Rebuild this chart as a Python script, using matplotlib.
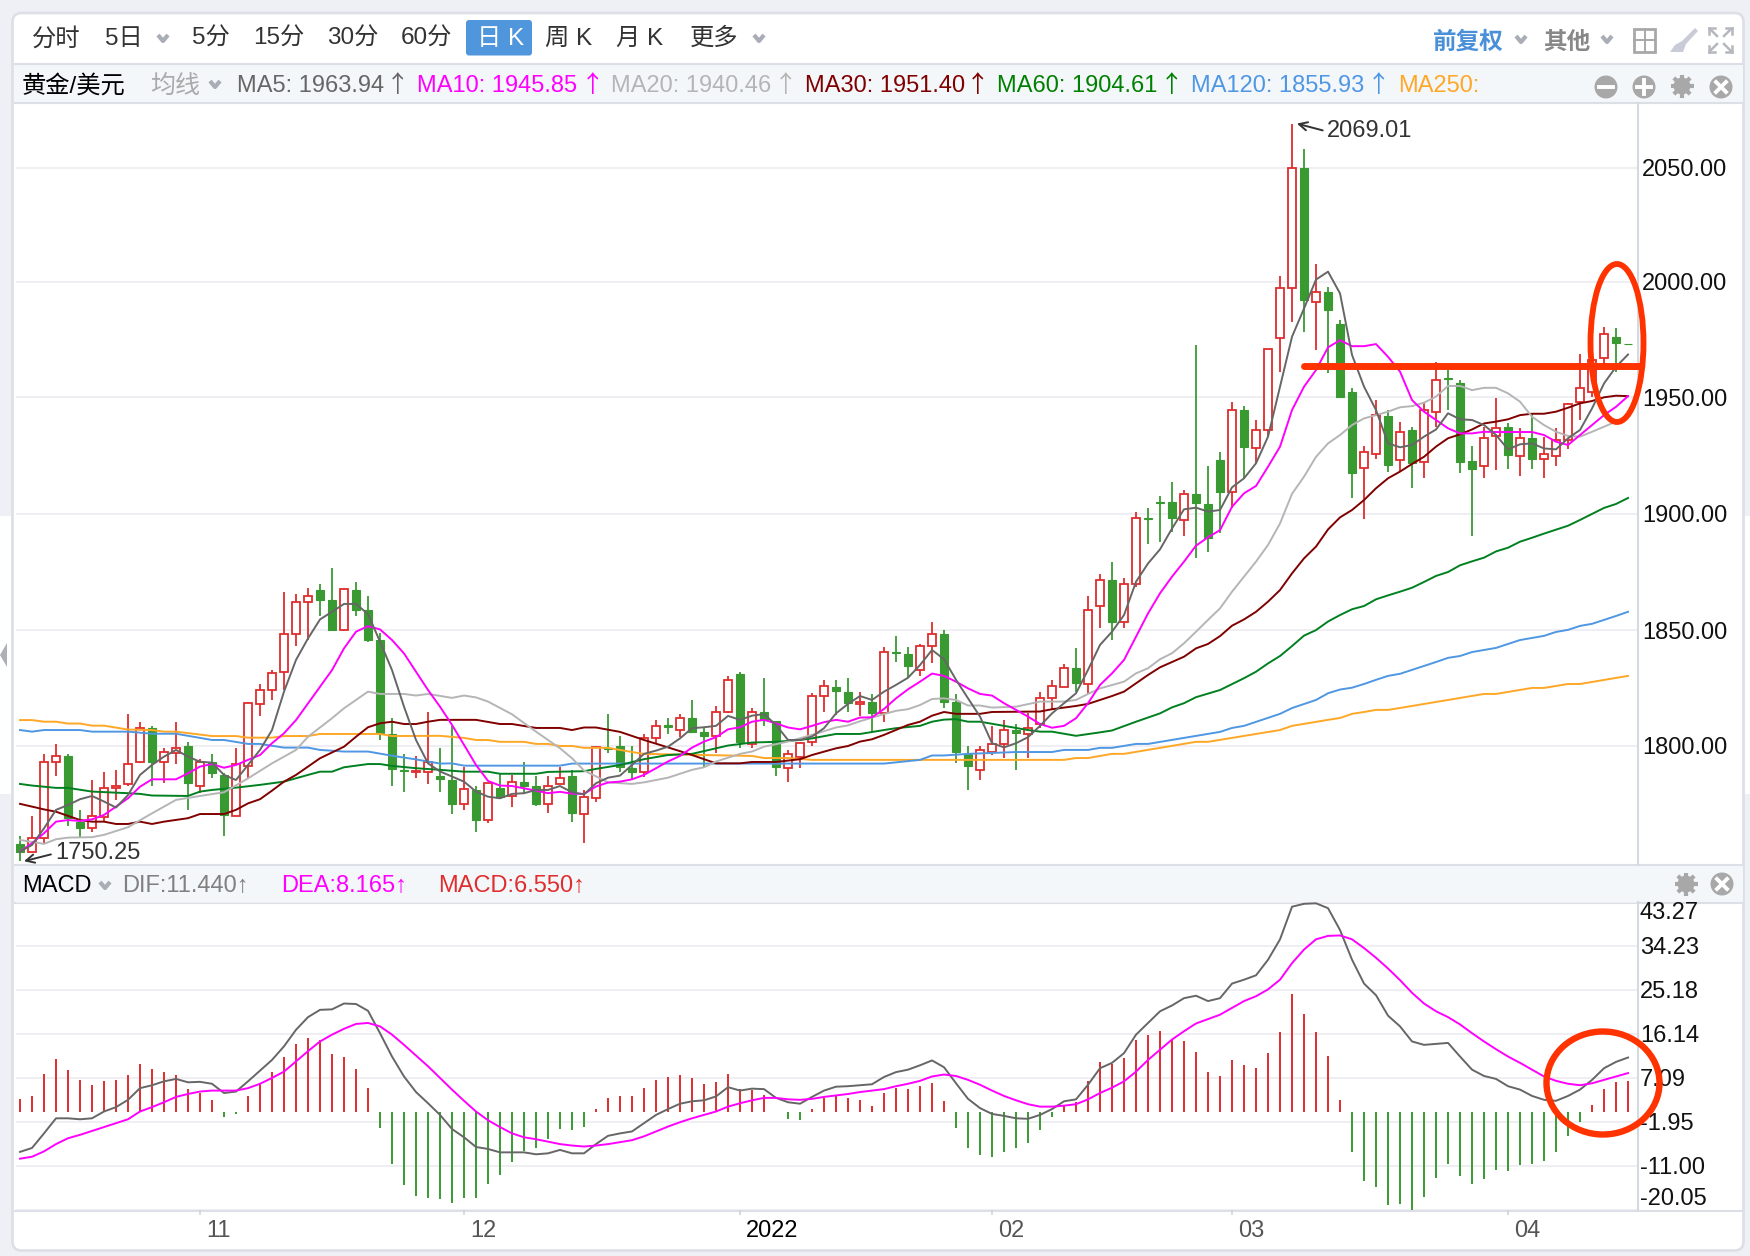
import matplotlib
matplotlib.use("Agg")
import numpy as np
import matplotlib.pyplot as plt
from matplotlib.patches import Rectangle, FancyBboxPatch, Circle, Ellipse, Polygon

plt.rcParams['font.family'] = ['Liberation Sans', 'Noto Sans CJK SC', 'DejaVu Sans']

W, H = 1750, 1256

candle_dirs = ("GRRRGGRRRR" "RGRRGRGGRR" "RRRRRGGRGG" "GGGRRGGRGR" "GRGGRRGRRG"
               "GGRRGRGGRR" "GRGGRRRRGG" "RGRGGRRGGG" "RRRGRRRRGR" "RGRRGGGRGG"
               "GRGRRRRGRG" "GGRRGRGRRG" "GGRRGRGRRR" "RRRGG")

highs = [1761.1, 1769.8, 1796.4, 1800.9, 1796.4, 1772.4, 1785.3, 1788.6, 1789.6, 1813.8,
         1810.2, 1808.6, 1799, 1810.2, 1801.7, 1794.2, 1796.6, 1788.2, 1799, 1818.4,
         1826.6, 1832.8, 1866.5, 1865.7, 1868.1, 1870, 1876.8, 1868.1, 1870.9, 1864.8,
         1849, 1812, 1796.6, 1795.7, 1814.6, 1799.1, 1808.7, 1791.1, 1782.5, 1783.9,
         1788.2, 1787.5, 1793, 1787.1, 1787.1, 1791.1, 1789.7, 1781, 1800, 1813.9,
         1804.3, 1800, 1805.1, 1811.3, 1812, 1813.9, 1819.9, 1808.1, 1817.3, 1830.3,
         1832, 1816.3, 1829.3, 1811, 1798.3, 1801.9, 1823.1, 1828.5, 1828.5, 1829.3,
         1823.4, 1822.3, 1842.9, 1847.5, 1842.9, 1844.1, 1853.5, 1850.1, 1822.3, 1800,
         1800, 1808.7, 1811.3, 1809.4, 1814.4, 1823.2, 1828.5, 1835.4, 1842.2, 1864.8,
         1874.3, 1879.5, 1872.5, 1901, 1902.7, 1908, 1914.1, 1910.6, 1973.3, 1921,
         1927, 1948.5, 1946.9, 1940.9, 1971.4, 2003.1, 2069.01, 2058.2, 2008.3, 1998.5,
         1984.1, 1954.6, 1929.6, 1949.5, 1945.2, 1939.9, 1938, 1948.1, 1965.8, 1965.4,
         1958.2, 1929.6, 1938, 1950.2, 1939.7, 1937.3, 1944, 1933.7, 1937.3, 1948.4,
         1969.4, 1967.5, 1981.2, 1980.5, 1973.7]
body_tops = [1757.7, 1760.4, 1793.2, 1795.7, 1795.7, 1767.3, 1769.8, 1782, 1782.9, 1792.4,
             1807.9, 1807.6, 1797.4, 1799.3, 1800, 1793, 1793, 1787.5, 1792.4, 1818.4,
             1824.2, 1831.4, 1848.5, 1862.4, 1865, 1867.3, 1863.1, 1867.7, 1867.3, 1858.8,
             1845.8, 1805, 1789.6, 1789.4, 1793.2, 1787, 1785.3, 1781.3, 1781, 1783.9,
             1781.7, 1784.6, 1784.5, 1782.5, 1782.9, 1786.3, 1787.1, 1777.9, 1799.5, 1799,
             1800, 1790.7, 1803.6, 1808.7, 1809, 1812.3, 1812, 1805.9, 1814.9, 1828.7,
             1831.1, 1814.9, 1814.6, 1811, 1796.6, 1801.5, 1821.8, 1825.9, 1825.7, 1823.2,
             1819.2, 1818.9, 1840.8, 1840.6, 1839.8, 1843.4, 1848.6, 1848.4, 1818.9, 1796.6,
             1798.3, 1800.7, 1806.9, 1806.9, 1807.9, 1820.8, 1825.9, 1833.7, 1833.6, 1858.8,
             1871.7, 1871.7, 1870, 1898.5, 1898.4, 1905.3, 1905.3, 1909, 1908.7, 1904.4,
             1923.6, 1945.2, 1945.2, 1936.6, 1971.4, 1998, 2049.9, 2049.7, 1996.2, 1996,
             1982.4, 1952.8, 1927, 1943, 1942.6, 1935.7, 1936.6, 1945.2, 1958.2, 1959,
             1957, 1923.3, 1933.1, 1937.3, 1938, 1933, 1933, 1926.2, 1932.2, 1947.8,
             1954.7, 1966.8, 1978, 1976.9, 1973.7]
body_bots = [1754.4, 1754.4, 1760.4, 1793.2, 1768.8, 1764.7, 1764.7, 1769.5, 1781.7, 1783.4,
             1793, 1793.2, 1793.2, 1796.8, 1783.9, 1782.7, 1788.2, 1770.2, 1769.8, 1791.4,
             1818.2, 1824.2, 1832, 1848.2, 1862.4, 1863.1, 1850.1, 1850.1, 1858.8, 1845.8,
             1805.5, 1789.9, 1789.1, 1788.6, 1788.8, 1785.6, 1775, 1775, 1768, 1768,
             1778.1, 1778.4, 1782.7, 1775, 1775, 1783.5, 1770.9, 1770.7, 1777.4, 1798.6,
             1791.1, 1788.9, 1788.7, 1803.6, 1808.4, 1807, 1806.2, 1804.5, 1804.3, 1814.7,
             1801.9, 1800.9, 1811.3, 1790.8, 1790.5, 1795.4, 1801.6, 1821.6, 1823.8, 1818.5,
             1818.2, 1814.1, 1814.1, 1840, 1834.7, 1832.9, 1843.2, 1819.2, 1797.6, 1791.5,
             1789.7, 1797.3, 1800.7, 1805.5, 1805.4, 1809.5, 1820.9, 1825.7, 1827.1, 1826.8,
             1860.5, 1853.7, 1853.6, 1870, 1897.9, 1904.9, 1898.7, 1897.7, 1904.9, 1890,
             1909.9, 1909.9, 1929.1, 1928.6, 1936.6, 1976.2, 1997.8, 1992.7, 1991.9, 1988.4,
             1950.7, 1917.8, 1920.3, 1926.2, 1921.3, 1923.6, 1922.2, 1922.7, 1944.2, 1958.4,
             1922.9, 1919.6, 1921, 1934, 1925.6, 1925.3, 1923.9, 1923.9, 1925.3, 1932.2,
             1948.7, 1952.8, 1967.5, 1974, 1973.6]
lows = [1750.25, 1754.4, 1758, 1787, 1765.6, 1760.8, 1763, 1767.3, 1776.7, 1782.7,
        1792.5, 1782.7, 1783.9, 1792.2, 1772.4, 1779.6, 1786.2, 1761.3, 1769.8, 1785.9,
        1813.1, 1819.9, 1824.2, 1843.2, 1845.8, 1856.2, 1850.1, 1849.8, 1856.2, 1844.9,
        1802.6, 1782.7, 1780.1, 1786.2, 1783.6, 1780.1, 1770.7, 1772.4, 1763, 1766.6,
        1777, 1773.5, 1779.9, 1774.1, 1770.9, 1783.5, 1767.3, 1758, 1776, 1796.9,
        1788.9, 1785.6, 1786.5, 1801.2, 1805.2, 1803.8, 1805.5, 1791.1, 1796.9, 1814.1,
        1799.3, 1799.3, 1808.7, 1787.2, 1784.6, 1790.7, 1800.2, 1814.9, 1813.4, 1814.9,
        1813, 1806.2, 1810.5, 1836.5, 1830, 1830.3, 1835.7, 1816.6, 1792.5, 1781,
        1785.3, 1795.9, 1795, 1789.7, 1794.7, 1807.7, 1815.6, 1825.4, 1823.5, 1822.5,
        1851.2, 1845.8, 1851.2, 1868.6, 1887.3, 1888.2, 1892.6, 1890.8, 1881.4, 1884,
        1891.9, 1903, 1915.7, 1922.2, 1933.4, 1961.8, 1983.4, 1979, 1971.1, 1961,
        1950.7, 1907.3, 1898, 1923.9, 1918.6, 1918.6, 1911.6, 1916, 1938, 1945.2,
        1917.8, 1890.9, 1916, 1919.3, 1919.6, 1916.8, 1919.6, 1916, 1921.2, 1928.2,
        1940.9, 1950.7, 1964.6, 1961.8, 1973.4]

ma5 = [1754.4, 1757.2, 1764.4, 1772.4, 1774.5, 1777, 1778.4, 1776, 1773.4, 1778.8,
       1787.5, 1791.8, 1795.4, 1798.3, 1795.4, 1793.2, 1792.8, 1787.5, 1785.3, 1791.8,
       1798.3, 1806.9, 1823.5, 1837.2, 1846.5, 1854.7, 1858, 1861.4, 1861.4, 1857,
       1845.1, 1832.8, 1817, 1802.6, 1792.5, 1789, 1786.8, 1784.6, 1780.3, 1778.1,
       1777.4, 1779.3, 1779.6, 1781, 1781, 1782.7, 1780, 1779.1, 1783.9, 1786.3,
       1787.2, 1791.8, 1796.6, 1798, 1799.7, 1803.3, 1807.7, 1808.1, 1808.7, 1813,
       1811.3, 1813.1, 1813.8, 1809.1, 1802.6, 1802.6, 1804.1, 1807.7, 1814.1, 1818.2,
       1821.6, 1819.9, 1823.5, 1826.4, 1829.5, 1835, 1841.5, 1837.5, 1828.6, 1820.6,
       1812.7, 1801.2, 1799.4, 1801.2, 1803.8, 1808.7, 1814.1, 1818.5, 1822.8, 1832.9,
       1843.7, 1849.4, 1856.6, 1871, 1878.9, 1885, 1894, 1902.3, 1903, 1901.3,
       1902, 1911.8, 1915.7, 1922.2, 1933.7, 1955.3, 1976.9, 1989.1, 2001.6, 2005,
       1995.6, 1969, 1955.3, 1945.2, 1930.8, 1929.1, 1930.1, 1933.7, 1936.8, 1943.8,
       1941.2, 1940.9, 1938.7, 1934.4, 1928.2, 1930.4, 1930.8, 1928.6, 1928.2, 1933,
       1936.6, 1945.9, 1956.7, 1963.9, 1969.2]
ma10 = [1754.4, 1758, 1762.3, 1767.3, 1768, 1767.6, 1768.3, 1770.2, 1773.8, 1777.4,
        1782.4, 1785.6, 1785.6, 1785.6, 1788.2, 1791.1, 1792.2, 1790.6, 1791.8, 1794,
        1796.1, 1801.2, 1805.5, 1811.2, 1818.4, 1825.6, 1832.8, 1842.2, 1849.4, 1851.8,
        1850.4, 1845.8, 1840, 1832.1, 1824.2, 1817, 1809.1, 1800.5, 1791.8, 1784.9,
        1782.9, 1782.7, 1781.7, 1780.7, 1779.6, 1780.2, 1779.4, 1779.3, 1782.5, 1784.2,
        1784.6, 1785.6, 1787.5, 1790.4, 1793.3, 1795.7, 1799.3, 1801.9, 1803.8, 1807.2,
        1808.1, 1810.5, 1811.3, 1809.8, 1808, 1807.2, 1808.7, 1810.3, 1811.3, 1810.5,
        1812.3, 1812.4, 1816, 1820.6, 1824.5, 1827.8, 1831.3, 1830.3, 1827.8, 1824.9,
        1822.5, 1821.8, 1818.5, 1815.6, 1812.7, 1809.5, 1807.9, 1808.7, 1812, 1818.5,
        1826.4, 1831.4, 1837.2, 1847.3, 1857.3, 1866, 1873.2, 1879.7, 1886.6, 1890.2,
        1893.3, 1903.4, 1909.2, 1912.4, 1920.7, 1929.4, 1945.2, 1955.3, 1962.5, 1972.3,
        1975.4, 1972.8, 1972.8, 1973.7, 1968.2, 1961.8, 1949.5, 1944.5, 1940.9, 1937.3,
        1935.1, 1935.1, 1935.8, 1935.7, 1935.7, 1935.7, 1935.7, 1934.4, 1931.5, 1930.1,
        1934.4, 1938.7, 1943, 1946.6, 1951.2]

ma20_days = [0, 2, 3, 4, 6, 7, 9, 11, 13, 15, 17, 19, 21, 23, 24, 26, 27, 29, 30, 32, 33, 34,
             36, 37, 38, 39, 41, 43, 45, 46, 47, 49, 51, 52, 54, 56, 57, 58, 60, 61, 62, 64,
             66, 68, 69, 70, 72, 73, 74, 75, 76, 77, 78, 79, 80, 81, 83, 85, 87, 88, 89, 90,
             92, 93, 94, 95, 96, 97, 98, 99, 100, 101, 102, 103, 104, 105, 106, 107, 108, 109,
             110, 111, 112, 113, 114, 115, 116, 117, 118, 119, 120, 121, 122, 123, 124, 125,
             126, 127, 128, 129, 130, 131, 132, 133, 134]
ma20 = [1759.4, 1757.7, 1759.7, 1760.4, 1760.6, 1761.6, 1764.9, 1770.9, 1776.7, 1778.4, 1780,
        1786, 1792.5, 1798.3, 1804, 1812, 1816.3, 1823.5, 1822.5, 1822.5, 1821.8, 1822.5,
        1820.8, 1821.8, 1821, 1819.2, 1813.7, 1806.2, 1799, 1794.7, 1789.4, 1784.3, 1783.6,
        1784.3, 1786.3, 1789.7, 1790.8, 1793.3, 1796.6, 1797.6, 1799.7, 1801.9, 1804.8, 1808,
        1808.9, 1810.7, 1813.8, 1815.2, 1815.9, 1817.7, 1820.3, 1820.6, 1819.9, 1817.5,
        1817.5, 1816.6, 1817, 1819.2, 1819.2, 1819.9, 1822.5, 1824.9, 1827.8, 1831.4, 1833.6,
        1837.5, 1840.1, 1844.4, 1849.4, 1854.5, 1859.5, 1866.7, 1873.2, 1879.7, 1886.9,
        1896.2, 1909, 1916.4, 1925, 1930.8, 1934.4, 1938.7, 1941.6, 1943, 1944.5, 1946.4,
        1946.9, 1948.4, 1951, 1955.6, 1955.6, 1953.8, 1954.8, 1954.8, 1952.4, 1948.8, 1942.3,
        1938.7, 1935.8, 1934, 1933.7, 1935.8, 1938, 1940.2, 1942.3]

ma30_days = [0, 2, 3, 5, 6, 7, 8, 9, 10, 11, 12, 14, 15, 17, 18, 19, 20, 21, 22, 23, 25, 27, 28,
             29, 30, 31, 32, 33, 34, 35, 38, 40, 41, 43, 45, 46, 47, 48, 50, 52, 54, 56, 58, 60,
             61, 63, 65, 66, 68, 69, 70, 71, 72, 74, 75, 76, 77, 78, 80, 81, 85, 86, 88, 89, 90,
             91, 92, 93, 94, 95, 97, 98, 99, 100, 101, 102, 103, 104, 105, 106, 107, 108, 109,
             110, 111, 112, 113, 114, 115, 116, 117, 118, 119, 120, 121, 122, 123, 124, 125,
             126, 127, 128, 129, 130, 131, 132, 133, 134]
ma30 = [1775, 1772.6, 1771.6, 1768, 1767.3, 1767.3, 1766.3, 1766.3, 1767.3, 1766.3, 1767.3,
        1768.8, 1770.6, 1770.6, 1772.4, 1775.2, 1777, 1780.7, 1784.6, 1787.5, 1794.7, 1799.7,
        1804, 1808.1, 1809.8, 1810.5, 1809.5, 1809.5, 1810.5, 1811.3, 1811.3, 1809.5, 1809.5,
        1807.8, 1807.8, 1806.9, 1808, 1808, 1806.1, 1802.6, 1799.4, 1796.1, 1792.5, 1792.5,
        1793.1, 1793.1, 1794.3, 1796.1, 1799, 1800, 1801.9, 1802.9, 1804.8, 1809.1, 1810.5,
        1813.1, 1814.7, 1813.9, 1813.9, 1814.7, 1814.9, 1815.9, 1817.3, 1818.2, 1819.9,
        1821.6, 1823.5, 1827.1, 1830.7, 1834, 1838.6, 1842.2, 1844.1, 1847.5, 1852, 1854.7,
        1858, 1862.4, 1867.4, 1874.6, 1881.1, 1886.2, 1893.6, 1898.8, 1902, 1906.3, 1911.4,
        1915.7, 1918.6, 1921.9, 1925, 1929.4, 1933, 1934.7, 1936.8, 1939.4, 1940.2, 1941.2,
        1943, 1943.6, 1943.6, 1944.5, 1946.2, 1948.1, 1949.1, 1950.7, 1951.4, 1951.2]

ma60_days = [0, 1, 3, 4, 6, 9, 10, 11, 14, 15, 16, 18, 20, 22, 24, 25, 26, 27, 29, 30, 31, 33, 35,
             37, 39, 40, 43, 44, 47, 48, 50, 52, 54, 56, 58, 59, 61, 63, 65, 66, 68, 70, 72, 73,
             75, 76, 77, 78, 79, 80, 82, 84, 85, 86, 88, 90, 91, 93, 95, 96, 97, 98, 100, 102,
             103, 104, 105, 106, 107, 108, 109, 110, 111, 112, 113, 114, 115, 116, 117, 118,
             119, 120, 121, 122, 123, 124, 125, 126, 127, 128, 129, 130, 131, 132, 133, 134]
ma60 = [1783.6, 1782.9, 1781.9, 1781.9, 1780.3, 1779.6, 1779.3, 1778.6, 1778.4, 1780.3, 1781,
        1782, 1783.2, 1784.6, 1787.5, 1788.9, 1788.9, 1790.8, 1792.2, 1792.2, 1791.4, 1790.4,
        1789.7, 1788.9, 1788.9, 1788, 1788, 1788.8, 1789.1, 1790.1, 1791.8, 1794.3, 1796.1,
        1796.6, 1799, 1800.2, 1801.5, 1801.8, 1802.6, 1803.3, 1805.2, 1805.2, 1806.9, 1807.7,
        1808.7, 1810.5, 1811.4, 1811.6, 1810.5, 1810.5, 1808.7, 1806.9, 1806.2, 1806.2,
        1804.4, 1805.9, 1806.7, 1810.5, 1814.1, 1816.7, 1818.5, 1821.1, 1824.2, 1829.3,
        1832.1, 1835.7, 1838.9, 1843.2, 1847.7, 1850.1, 1853.8, 1856.6, 1859.1, 1860.5,
        1863.4, 1865.1, 1866.7, 1868.4, 1870.9, 1873.5, 1875.2, 1878.1, 1879.8, 1881.4,
        1884.1, 1885.7, 1888.3, 1890, 1891.8, 1893.5, 1895.2, 1897.7, 1900.3, 1902.9, 1904.6,
        1907.2]

ma120_days = [0, 1, 2, 5, 6, 9, 11, 13, 16, 17, 19, 20, 22, 24, 25, 27, 29, 31, 33, 35, 36, 37, 45,
              46, 72, 75, 76, 77, 79, 83, 86, 87, 89, 90, 91, 93, 94, 100, 101, 102, 105, 106, 108,
              109, 110, 111, 112, 113, 114, 115, 116, 117, 118, 119, 120, 121, 122, 123, 124, 125,
              126, 127, 128, 129, 130, 131, 132, 133, 134]
ma120 = [1806.9, 1806.2, 1806.9, 1806.9, 1806.2, 1806.2, 1805.3, 1805.3, 1802.6, 1802.6, 1800.9,
         1800.9, 1799.3, 1799.3, 1798.3, 1797.6, 1797.6, 1795.8, 1794.2, 1792.4, 1792.5, 1791.5,
         1791.5, 1792.4, 1792.4, 1794, 1795.9, 1795.9, 1796.6, 1797.4, 1797.4, 1798.3, 1798.3,
         1799.2, 1799.2, 1800.9, 1800.9, 1806.1, 1807.8, 1808.7, 1813.9, 1816.4, 1819.9, 1822.8,
         1824.4, 1825.2, 1826.8, 1828.6, 1830.3, 1831.2, 1832.9, 1834.6, 1836.3, 1838.1, 1838.9,
         1840.6, 1841.5, 1842.4, 1844.1, 1845.8, 1846.7, 1847.6, 1849.3, 1850.2, 1851.9, 1852.8,
         1854.5, 1856.2, 1858]

ma250_days = [0, 1, 2, 3, 4, 5, 6, 7, 9, 11, 12, 13, 16, 18, 19, 21, 22, 24, 25, 30, 31, 35, 37, 38,
              39, 40, 42, 43, 44, 45, 46, 47, 49, 51, 52, 61, 62, 64, 66, 72, 87, 88, 89, 91, 92,
              98, 99, 105, 106, 109, 110, 111, 112, 113, 114, 116, 119, 122, 123, 126, 127, 129,
              130, 134]
ma250 = [1811.2, 1811.2, 1810.5, 1810.5, 1809.7, 1809.7, 1808.8, 1808.8, 1807.1, 1806.9, 1806.2,
         1806.2, 1804.3, 1804.3, 1803.6, 1803.6, 1804.3, 1804.3, 1805.2, 1805.2, 1804.3, 1804.4,
         1803.5, 1802.6, 1802.6, 1801.8, 1801.8, 1800.9, 1800.9, 1800, 1800, 1799.2, 1799.2,
         1797.4, 1796.6, 1795.7, 1794.8, 1794.8, 1794, 1794, 1794, 1794.8, 1794.8, 1796.6, 1796.6,
         1801.8, 1801.8, 1806.9, 1808.7, 1811.3, 1812.1, 1813.9, 1814.7, 1815.6, 1815.6, 1817.3,
         1819.9, 1822.5, 1822.5, 1825.1, 1825.1, 1826.8, 1826.8, 1830.3]

macd = [2.8, 3.4, 8, 11, 8.8, 6.7, 5.6, 6.4, 6.7, 7.8,
        10, 9, 8.4, 7.8, 4.9, 4, 2.6, -1, -0.3, 3.3,
        6, 8.4, 11.5, 14.1, 15.4, 15, 12, 11.5, 9, 5.1,
        -3.2, -10.6, -15, -17.2, -17.5, -17.8, -18.7, -17.5, -17.5, -14.7,
        -12.8, -10.2, -8, -7.3, -5.5, -3.3, -3.7, -2.9, 0.7, 2.9,
        3.4, 3.3, 5, 6.6, 7.3, 7.8, 7, 5.9, 6.2, 8,
        4.9, 4.7, 3.6, 0.14, -1.4, -1.5, 0.75, 3, 3.4, 2.9,
        2.6, 1.4, 4, 5.1, 4.9, 5.5, 6, 2.3, -3.2, -7.3,
        -8.8, -9.1, -8.1, -7.3, -6.2, -3.6, -1, 1.6, 2.1, 6.5,
        10.4, 10, 11.1, 14.8, 16, 16.7, 15.2, 14.6, 12.4, 8.3,
        7.6, 10.8, 9.7, 9.2, 12.3, 16.5, 24.4, 20.2, 16.5, 11.6,
        2.5, -8.2, -14, -15.4, -19, -18.8, -20, -17.3, -13.4, -10.6,
        -13, -14.7, -13.7, -11.9, -12, -10.7, -10.6, -9.9, -8.2, -4.9,
        -1.9, 1.6, 4.9, 6.2, 6.5]
dif = [-8.1, -7.3, -4.3, -1.2, -1.2, -1.4, -1.2, 0.2, 1.1, 2.6,
       5, 5.6, 6.4, 6.9, 6.2, 6.3, 5.9, 4, 4.3, 6.4,
       8.6, 10.8, 13.6, 17, 19.6, 21.1, 21.2, 22.4, 22.3, 20.9,
       16.3, 11.5, 7.4, 4.2, 1.9, -0.5, -3.4, -5.1, -7.1, -7.5,
       -8.2, -8.2, -8.2, -8.6, -8.4, -7.7, -8.4, -8.4, -6.5, -4.8,
       -4.3, -3.9, -2.2, -0.5, 0.7, 1.8, 2.3, 2.5, 3.3, 5.2,
       4.5, 4.9, 4.8, 3, 2.1, 1.8, 3.2, 4.5, 5.3, 5.4,
       5.6, 5.8, 7.3, 8.3, 8.8, 9.7, 10.7, 9.3, 6, 2.8,
       0.9, -0.3, -0.7, -1.2, -1.3, -0.5, 0.7, 2.3, 2.7, 5.7,
       9.1, 10.2, 12.2, 16, 18.4, 20.8, 22, 23.5, 24, 22.9,
       23.5, 26.5, 27.3, 28.2, 31.4, 35.6, 42.3, 42.9, 43, 42,
       37.5, 31.4, 26.5, 24.1, 19.9, 17.7, 14.6, 13.9, 14.1, 14.3,
       11.5, 8.8, 7.5, 6.9, 5.4, 4.7, 3.4, 2.6, 2.4, 3.4,
       4.7, 6.7, 9.1, 10.4, 11.3]
dea = [-9.5, -9.1, -8, -6.5, -5.3, -4.6, -3.8, -3, -2.2, -1.4,
       0.2, 1.1, 2.1, 3.2, 3.8, 4.3, 4.5, 4.5, 4.5, 5,
       5.9, 7.1, 8.4, 10.5, 12.6, 14.6, 16, 17.2, 18.2, 18.4,
       17.7, 16, 13.9, 11.7, 9.5, 7.1, 4.7, 2.4, 0.2, -1.6,
       -3, -4.3, -5.1, -5.5, -6, -6.5, -6.8, -7, -6.8, -6.5,
       -6.1, -5.7, -4.9, -3.9, -2.9, -2, -1.2, -0.5, 0.2, 1.2,
       1.9, 2.5, 3, 3, 2.7, 2.6, 2.8, 3.2, 3.5, 3.8,
       4.2, 4.5, 4.8, 5.4, 5.9, 6.5, 7.4, 7.8, 7.5, 6.7,
       5.7, 4.5, 3.4, 2.5, 1.7, 1.2, 1.2, 1.4, 1.7, 2.7,
       4, 5.1, 6.4, 8.4, 10.8, 12.9, 15, 16.7, 18.3, 19.2,
       20.1, 21.5, 22.9, 23.9, 25.3, 27.3, 30.7, 33.5, 35.6, 36.3,
       36.4, 35.6, 33.8, 31.8, 29.6, 27.2, 24.6, 22.4, 20.8, 19.6,
       18.1, 16.3, 14.6, 13, 11.5, 10.2, 8.8, 7.4, 6.5, 5.9,
       5.6, 6, 6.7, 7.4, 8.1]

# the grid in the picture is not quite even, so the gridlines sit slightly off the round numbers
price_grid = [1800, 1850, 1900.3, 1950.7, 2000.6, 2050]
price_labels = ['1800.00', '1850.00', '1900.00', '1950.00', '2000.00', '2050.00']
macd_ticks = [-20.05, -11.00, -1.95, 7.09, 16.14, 25.18, 34.23, 43.27]
month_days = [15, 37, 60, 81, 101, 124]
month_labels = ['11', '12', '2022', '02', '03', '04']

RED = '#e02d2d'
GREEN = '#3a9a32'
LINE = '#dcdfe5'
GRID = '#eeeef3'
BG = '#eef0f5'
ICON = '#a8a8a8'


def px_axes(fig, left, top, right, bottom, **kw):
    return fig.add_axes([left / W, 1 - bottom / H, (right - left) / W, (bottom - top) / H], **kw)


def chevron(ax, x, y, color='#a9adb5'):
    ax.plot([x - 5, x, x + 5], [y - 3, y + 3, y - 3], color=color, lw=3, solid_capstyle='butt')


def circle_icon(ax, x, y, kind):
    ax.add_patch(Circle((x, y), 11.5, color=ICON, lw=0))
    if kind == 'minus':
        ax.plot([x - 7, x + 7], [y, y], color='white', lw=2.8)
    elif kind == 'plus':
        ax.plot([x - 7, x + 7], [y, y], color='white', lw=2.8)
        ax.plot([x, x], [y - 7, y + 7], color='white', lw=2.8)
    else:
        ax.plot([x - 5, x + 5], [y - 5, y + 5], color='white', lw=2.8)
        ax.plot([x - 5, x + 5], [y + 5, y - 5], color='white', lw=2.8)


def gear(ax, x, y):
    for a in np.arange(8) * np.pi / 4:
        ax.plot([x, x + 11.5 * np.cos(a)], [y, y + 11.5 * np.sin(a)], color=ICON, lw=3, solid_capstyle='butt')
    ax.add_patch(Circle((x, y), 8.5, color=ICON, lw=0))
    ax.add_patch(Circle((x, y), 3.5, color='#f4f7fa', lw=0))


def up_arrow(ax, x, y, color):
    ax.text(x, y, '↑', family='Noto Sans CJK SC', fontsize=17, color=color, ha='center', va='center')


fig = plt.figure(figsize=(W / 100, H / 100), dpi=100, facecolor=BG)

# page and toolbars, drawn in pixel coordinates
ui = fig.add_axes([0, 0, 1, 1], zorder=0)
ui.set_xlim(0, W)
ui.set_ylim(H, 0)
ui.axis('off')
ui.add_patch(Rectangle((0, 516), 11, 278, color='white', lw=0))
ui.add_patch(Rectangle((1745, 516), 5, 278, color='white', lw=0))
ui.add_patch(Polygon([(0, 655), (7, 643), (7, 667)], color='#adb0b5', lw=0))
ui.add_patch(FancyBboxPatch((12.5, 13), 1731, 1237.5, boxstyle='round,pad=0,rounding_size=9',
                            fc='white', ec=LINE, lw=1.9))
ui.add_patch(Rectangle((14, 65), 1729, 37, color='#f4f7fa', lw=0))
ui.add_patch(Rectangle((14, 865), 1729, 37, color='#f4f7fa', lw=0))
for y in [64, 102.5, 864.5, 902.5, 1210.7]:
    ui.plot([14, 1743], [y, y], color=LINE, lw=1.5, solid_capstyle='butt')

for label, x in [('分时', 32), ('5日', 105), ('5分', 192), ('15分', 253), ('30分', 327), ('60分', 401),
                 ('周 K', 545), ('月 K', 616), ('更多', 690)]:
    ui.text(x, 39, label, fontsize=17.5, color='#333333', va='center')
ui.add_patch(FancyBboxPatch((466, 20), 66, 35.5, boxstyle='round,pad=0,rounding_size=3', fc='#5096dd', lw=0))
ui.text(477, 39, '日 K', fontsize=17.5, color='white', va='center')
chevron(ui, 163, 38)
chevron(ui, 759, 38)
ui.text(1433, 42, '前复权', fontsize=17, color='#4a90d9', fontweight='bold', va='center')
chevron(ui, 1521, 39)
ui.text(1543, 42, '其他', fontsize=17, color='#888888', fontweight='bold', va='center')
chevron(ui, 1607, 39)

ui.add_patch(Rectangle((1634, 29), 21, 23, fc='none', ec=ICON, lw=2))
ui.plot([1644.5, 1644.5], [29, 52], color=ICON, lw=1.4)
ui.plot([1634, 1655], [40, 40], color=ICON, lw=1.4)
ui.add_patch(Polygon([(1695, 28), (1698, 31), (1686, 44), (1683, 52), (1670, 52), (1675, 45), (1682, 41)],
                     color='#c9ccd6', lw=0))
for cx, cy, dx, dy in [(1709, 28, 1, 1), (1732, 28, -1, 1), (1709, 52, 1, -1), (1732, 52, -1, -1)]:
    ui.plot([cx, cx + 6 * dx], [cy, cy], color='#b5b8bf', lw=1.8)
    ui.plot([cx, cx], [cy, cy + 6 * dy], color='#b5b8bf', lw=1.8)
    ui.plot([cx + 1.5 * dx, cx + 8 * dx], [cy + 1.5 * dy, cy + 8 * dy], color='#b5b8bf', lw=1.8)

ui.text(22, 86, '黄金/美元', fontsize=17.5, color='black', va='center')
ui.text(150, 86, '均线', fontsize=18, color='#aaaaaa', va='center')
chevron(ui, 215, 84)
for label, x, color, arrow_x in [('MA5: 1963.94', 237, '#666666', 398), ('MA10: 1945.85', 417, '#ff00ff', 593),
                                 ('MA20: 1940.46', 611, '#b5b5b5', 786), ('MA30: 1951.40', 805, '#800000', 978),
                                 ('MA60: 1904.61', 997, '#008000', 1172), ('MA120: 1855.93', 1191, '#4f97e3', 1379)]:
    ui.text(x, 86, label, fontsize=17, color=color, va='center')
    up_arrow(ui, arrow_x, 86, color)
ui.text(1398, 86, 'MA250:', fontsize=17, color='#ffa726', va='center')
circle_icon(ui, 1606, 87, 'minus')
circle_icon(ui, 1644, 87, 'plus')
gear(ui, 1682, 86)
circle_icon(ui, 1721, 87, 'close')

ui.text(22, 886, 'MACD', fontsize=17, color='black', va='center')
chevron(ui, 105, 885)
for label, x, color in [('DIF:11.440↑', 122, '#808080'), ('DEA:8.165↑', 281, '#ff00ff'),
                        ('MACD:6.550↑', 438, RED)]:
    ui.text(x, 886, label, fontsize=17, color=color, va='center')
gear(ui, 1686, 884)
circle_icon(ui, 1722, 884, 'close')

# candles and moving averages
days = np.arange(len(highs))
ax = px_axes(fig, 16, 103, 1638, 864, zorder=1)
ax.patch.set_alpha(0)
ax.set_xlim(-1 / 3, 134.83)
ax.set_ylim(1749, 2077.9)
ax.grid(axis='y', color=GRID, lw=1.44, zorder=0)
ax.set_axisbelow(True)
ax.set_yticks(price_grid, price_labels)
ax.yaxis.tick_right()
ax.tick_params(axis='y', length=0, pad=3, labelsize=17, labelcolor='#111111')
ax.set_xticks([])
for name in ['top', 'left', 'bottom']:
    ax.spines[name].set_visible(False)
ax.spines['right'].set_color('#d5dae2')
ax.spines['right'].set_linewidth(1.5)

colors = [RED if c == 'R' else GREEN for c in candle_dirs]
is_up = np.array([c == 'R' for c in candle_dirs])
high_a, top_a, bot_a, low_a = map(np.array, (highs, body_tops, body_bots, lows))
ax.vlines(days, top_a, high_a, colors=colors, lw=1.3, zorder=2)
ax.vlines(days, low_a, bot_a, colors=colors, lw=1.3, zorder=2)
ax.bar(days[is_up], (top_a - bot_a)[is_up], bottom=bot_a[is_up], width=0.66,
       fc='white', ec=RED, lw=1.3, zorder=2)
ax.bar(days[~is_up], (top_a - bot_a)[~is_up], bottom=bot_a[~is_up], width=0.62,
       fc=GREEN, ec=GREEN, lw=0.8, zorder=2)

ax.plot(ma250_days, ma250, color='#ffa726', lw=1.4, zorder=3)
ax.plot(ma120_days, ma120, color='#4f97e3', lw=1.4, zorder=3)
ax.plot(ma60_days, ma60, color='#008020', lw=1.4, zorder=3)
ax.plot(ma30_days, ma30, color='#800000', lw=1.4, zorder=3)
ax.plot(ma20_days, ma20, color='#b5b5b5', lw=1.4, zorder=3)
ax.plot(days, ma10, color='#ff00ff', lw=1.4, zorder=3)
ax.plot(days, ma5, color='#666666', lw=1.4, zorder=3)

ax.annotate('2069.01', xy=(106.4, 2069), xytext=(108.9, 2065.6), fontsize=17, color='#333333', va='center',
            arrowprops=dict(arrowstyle='->', color='#333333', lw=1.4, mutation_scale=15,
                            relpos=(0, 0.5), shrinkA=1, shrinkB=0))
ax.annotate('1750.25', xy=(0.33, 1750.2), xytext=(2.92, 1753.6), fontsize=17, color='#333333', va='center',
            arrowprops=dict(arrowstyle='->', color='#333333', lw=1.4, mutation_scale=15,
                            relpos=(0, 0.5), shrinkA=1, shrinkB=0))

# macd panel
ax2 = px_axes(fig, 16, 902, 1638, 1210, zorder=1)
ax2.patch.set_alpha(0)
ax2.set_xlim(-1 / 3, 134.83)
ax2.set_ylim(-20.05, 43.27)
ax2.grid(axis='y', color=GRID, lw=1.44, zorder=0)
ax2.set_axisbelow(True)
ax2.vlines(days, 0, macd, colors=[RED if v > 0 else GREEN for v in macd], lw=1.4, zorder=2)
ax2.plot(days, dif, color='#666666', lw=1.4, zorder=3)
ax2.plot(days, dea, color='#ff00ff', lw=1.4, zorder=3)
ax2.set_yticks(macd_ticks, [f'{v:.2f}' for v in macd_ticks])
ax2.yaxis.tick_right()
ax2.tick_params(axis='y', length=0, pad=1.4, labelsize=17, labelcolor='#111111')
labels = ax2.get_yticklabels()
labels[0].set_va('bottom')
labels[-1].set_va('top')
for name in ['top', 'left', 'bottom']:
    ax2.spines[name].set_visible(False)
ax2.spines['right'].set_color('#d5dae2')
ax2.spines['right'].set_linewidth(1.5)
ax2.set_xticks(month_days, [''] * len(month_days))
ax2.tick_params(axis='x', length=3.6, width=1.2, color='#cfd3da')
for day, label in zip(month_days, month_labels):
    ax2.annotate(label, xy=(day, 0), xycoords=('data', 'axes fraction'), xytext=(6, -21),
                 textcoords='offset pixels', fontsize=17, va='center', annotation_clip=False,
                 color='black' if label == '2022' else '#555555')

# hand-drawn red marks on top
top = fig.add_axes([0, 0, 1, 1], zorder=5)
top.set_xlim(0, W)
top.set_ylim(H, 0)
top.axis('off')
top.plot([1304, 1639], [366, 366], color='#ff3300', lw=5, solid_capstyle='round')
top.add_patch(Ellipse((1617, 343), 53, 158, fc='none', ec='#ff3300', lw=4.2))
top.add_patch(Ellipse((1603, 1083), 113, 103, fc='none', ec='#ff3300', lw=4.6))

fig.savefig('out.png', dpi=100, facecolor=fig.get_facecolor())
